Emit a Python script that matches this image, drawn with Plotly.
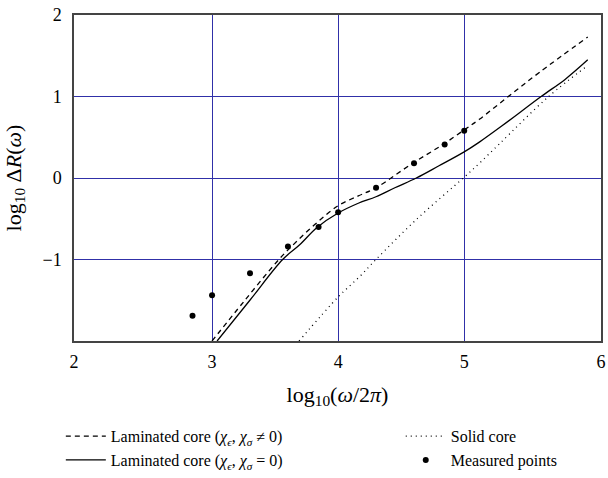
import plotly.graph_objects as go

# Laminated core (chi != 0) - dashed
lam_x = [3.00, 3.25, 3.53, 3.67, 3.83, 4.00, 4.16, 4.30, 4.59, 4.83, 5.00, 5.12, 5.35, 5.60, 5.98]
lam_y = [-2.00, -1.52, -1.00, -0.78, -0.55, -0.34, -0.22, -0.12, 0.18, 0.41, 0.59, 0.72, 1.00, 1.30, 1.73]

# Laminated core (chi = 0) - solid
lam0_x = [3.04, 3.30, 3.56, 3.695, 3.83, 4.00, 4.16, 4.30, 4.45, 4.62, 4.80, 5.00, 5.12, 5.30, 5.61, 5.80, 5.98]
lam0_y = [-2.00, -1.50, -1.00, -0.82, -0.61, -0.43, -0.31, -0.23, -0.12, 0.00, 0.15, 0.32, 0.44, 0.64, 1.00, 1.21, 1.45]

# Solid core - dotted
solid_x = [3.69, 4.00, 4.17, 4.30, 4.62, 5.00, 5.12, 5.28, 5.67, 5.98]
solid_y = [-2.00, -1.46, -1.21, -1.00, -0.51, 0.01, 0.18, 0.42, 1.00, 1.38]

# Measured points
meas_x = [2.845, 3.0, 3.301, 3.602, 3.845, 4.0, 4.301, 4.602, 4.845, 5.0]
meas_y = [-1.69, -1.44, -1.17, -0.84, -0.60, -0.42, -0.12, 0.18, 0.41, 0.58]

x_range = [1.905, 6.085]
x_tickvals = [1.905, 3, 4, 5, 6.085]
x_ticktext = ["2", "3", "4", "5", "6"]
y_tickvals = [-1, 0, 1, 2]
y_ticktext = ["\u22121", "0", "1", "2"]

FONT = "Liberation Serif"
GRID = "#3030a8"

fig = go.Figure()
fig.add_trace(go.Scatter(x=lam_x, y=lam_y, mode="lines", line_shape="spline",
                         line=dict(color="black", width=1.3, dash="5px,4px"),
                         name="Laminated core (<i>χ<sub>ϵ</sub></i>, <i>χ<sub>σ</sub></i> ≠ 0)",
                         legend="legend"))
fig.add_trace(go.Scatter(x=lam0_x, y=lam0_y, mode="lines", line_shape="spline",
                         line=dict(color="black", width=1.3),
                         name="Laminated core (<i>χ<sub>ϵ</sub></i>, <i>χ<sub>σ</sub></i> = 0)",
                         legend="legend"))
fig.add_trace(go.Scatter(x=solid_x, y=solid_y, mode="lines", line_shape="spline",
                         line=dict(color="black", width=1.3, dash="1px,4px"),
                         name="Solid core", legend="legend2"))
fig.add_trace(go.Scatter(x=meas_x, y=meas_y, mode="markers",
                         marker=dict(color="black", size=6),
                         name="Measured points", legend="legend2"))

leg_common = dict(orientation="v", yanchor="top", xanchor="left",
                  tracegroupgap=0, font=dict(size=16),
                  bgcolor="rgba(0,0,0,0)", itemwidth=40)

fig.update_layout(
    width=608, height=478,
    margin=dict(l=74, r=7, t=15, b=137, autoexpand=False),
    paper_bgcolor="white", plot_bgcolor="white",
    font=dict(family=FONT, size=18, color="black"),
    showlegend=True,
    legend=dict(x=-0.025, y=-0.24, **leg_common),
    legend2=dict(x=0.62, y=-0.24, **leg_common),
    xaxis=dict(range=x_range, tickvals=x_tickvals, ticktext=x_ticktext,
               showgrid=True, gridcolor=GRID, gridwidth=1, zeroline=False,
               showline=True, mirror=True, linecolor="#444", linewidth=1.5,
               ticks="", ticklabelstandoff=4, automargin=False,
               title=dict(text="log<sub>10</sub>(<i>ω</i>/2<i>π</i>)")),
    yaxis=dict(range=[-2, 2], tickvals=y_tickvals, ticktext=y_ticktext,
               showgrid=True, gridcolor=GRID, gridwidth=1, zeroline=False,
               showline=True, mirror=True, linecolor="#444", linewidth=1.5,
               ticks="", ticklabelstandoff=7, automargin=False,
               title=dict(text="log<sub>10</sub> Δ<i>R</i>(<i>ω</i>)")),
)

fig.write_html("out.html")
